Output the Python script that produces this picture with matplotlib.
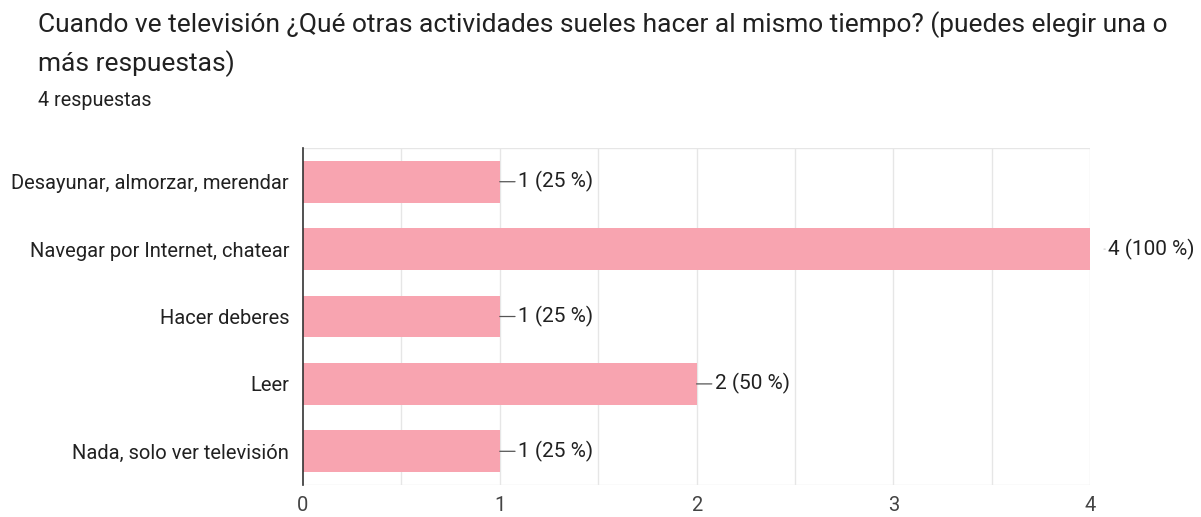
import matplotlib.pyplot as plt
import numpy as np

plt.rcParams['font.family'] = ['Roboto', 'DejaVu Sans']

title_lines = ['Cuando ve televisión ¿Qué otras actividades sueles hacer al mismo tiempo? (puedes elegir una o',
               'más respuestas)']
subtitle = '4 respuestas'
categories = ['Desayunar, almorzar, merendar', 'Navegar por Internet, chatear',
              'Hacer deberes', 'Leer', 'Nada, solo ver televisión']
counts = [1, 4, 1, 2, 1]
total = 4
xticks = [0, 1, 2, 3, 4]

bar_color = '#f8a4b0'
grid_color = '#e6e6e6'
text_color = '#212121'

fig = plt.figure(figsize=(12.01, 5.17), dpi=100)
ax = fig.add_axes([0.2523, 0.0619, 0.6553, 0.6518])

y = np.arange(len(categories))
ax.barh(y, counts, height=0.62, color=bar_color, zorder=2)
ax.set_ylim(len(categories) - 0.5, -0.5)
ax.set_xlim(0, 4)
ax.set_yticks(y)
ax.set_yticklabels(categories, fontsize=14.5, color=text_color)
ax.set_xticks(xticks)
ax.set_xticklabels([str(t) for t in xticks], fontsize=14.5, color='#444444')
ax.tick_params(axis='both', length=0)
ax.tick_params(axis='y', pad=10)
ax.tick_params(axis='x', pad=8)

for gx in np.arange(0.5, 4.01, 0.5):
    ax.axvline(gx, color=grid_color, lw=1, zorder=0)
ax.axhline(-0.5, color=grid_color, lw=1, zorder=0)
ax.axhline(len(categories) - 0.5, color=grid_color, lw=1, zorder=0)

for s in ['top', 'right', 'bottom']:
    ax.spines[s].set_visible(False)
ax.spines['left'].set_color('#333333')
ax.spines['left'].set_linewidth(1.2)
ax.spines['left'].set_zorder(3)

for yi, c in zip(y, counts):
    label = f'{c} ({round(c / total * 100)} %)'
    if c == max(counts):
        ax.annotate(label, xy=(c, yi), xytext=(13, 0), textcoords='offset points',
                    va='center', ha='left', fontsize=15, color=text_color,
                    arrowprops=dict(arrowstyle='-', color='#cccccc', lw=0.8,
                                    shrinkA=0, shrinkB=10), annotation_clip=False)
    else:
        ax.annotate(label, xy=(c, yi), xytext=(13, 0), textcoords='offset points',
                    va='center', ha='left', fontsize=15, color=text_color,
                    arrowprops=dict(arrowstyle='-', color='#555555', lw=0.9,
                                    shrinkA=0, shrinkB=0))

fig.text(38 / 1201, 1 - 25 / 517, title_lines[0], fontsize=19, color=text_color,
         ha='left', va='center')
fig.text(38 / 1201, 1 - 64 / 517, title_lines[1], fontsize=19, color=text_color,
         ha='left', va='center')
fig.text(38 / 1201, 1 - 100 / 517, subtitle, fontsize=14.2, color=text_color,
         ha='left', va='center')

fig.savefig('out.png', dpi=100)
